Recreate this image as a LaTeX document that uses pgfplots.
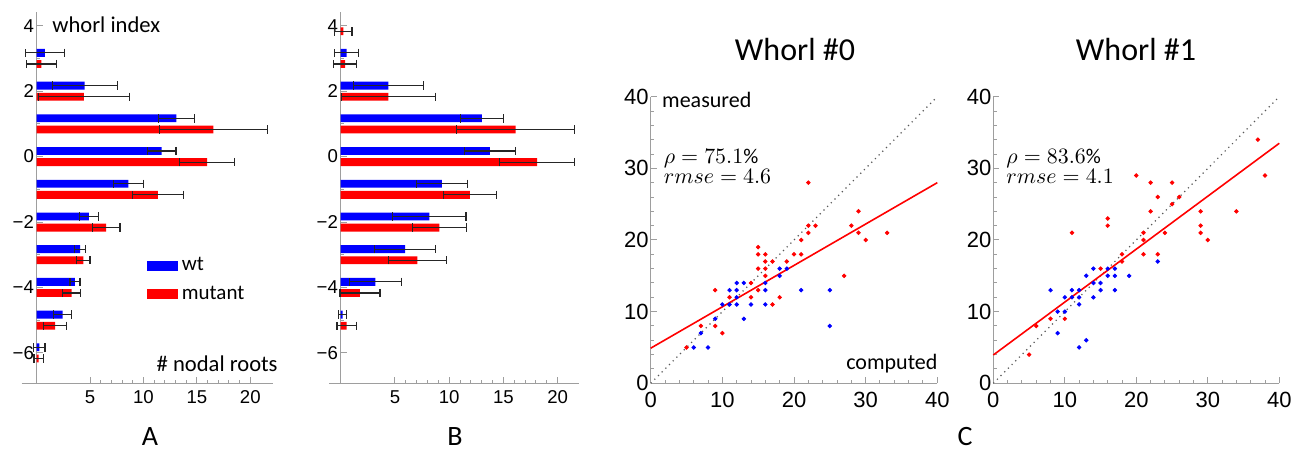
\documentclass[border=0pt]{standalone}
\usepackage{fontspec}
\setmainfont{Carlito}
\newfontfamily\tickfont{Liberation Sans}
\usepackage{pgfplots}
\pgfplotsset{compat=1.18}

\definecolor{mblue}{RGB}{0,0,255}
\definecolor{mred}{RGB}{255,0,0}
\definecolor{axgray}{gray}{0.62}

\pgfplotsset{
  barpanel/.style={
    scale only axis,
    axis x line=bottom, axis y line=middle,
    axis line style={axgray, -, line width=0.6pt},
    tick style={axgray, line width=0.5pt},
    tick align=inside,
    major tick length=3pt, minor tick length=1.8pt,
    xtick={5,10,15,20}, xticklabels={5,10,15,20},
    minor x tick num=4,
    ytick={-6,-4,-2,0,2,4}, yticklabels={−6,−4,−2,0,2,4},
    minor y tick num=1,
    ticklabel style={font=\tickfont\fontsize{9.3}{10}\selectfont, black},
    yticklabel style={inner sep=1.2pt},
    xticklabel style={inner sep=0pt, yshift=-3.3pt},
    clip=false,
  },
  errs/.style={error bars/.cd, x dir=both, x explicit,
    error mark=|,
    error bar style={black!85, line width=0.6pt},
    error mark options={black!85, mark size=2.1pt, line width=0.6pt}},
  wtbar/.style={xbar, bar width=0.24, fill=mblue, draw=none, forget plot, errs},
  mtbar/.style={xbar, bar width=0.24, fill=mred, draw=none, forget plot, errs},
  scatpanel/.style={
    scale only axis, width=143.3pt, height=143.3pt,
    xmin=0, xmax=40, ymin=0, ymax=40,
    axis lines=left,
    axis line style={axgray, -, line width=0.6pt},
    tick style={axgray, line width=0.5pt},
    tick align=inside,
    major tick length=3pt, minor tick length=1.8pt,
    xtick={0,10,20,30,40}, ytick={0,10,20,30,40},
    minor tick num=4,
    ticklabel style={font=\tickfont\fontsize{11}{12}\selectfont, black},
    /pgf/number format/assume math mode=true,
    yticklabel style={inner sep=0.8pt},
    xticklabel style={inner sep=0pt, yshift=-4.2pt},
    clip=false,
  },
}

\begin{document}
\begin{tikzpicture}
\useasboundingbox (0pt,0pt) rectangle (650pt,229pt);

% ---- panel A
\begin{axis}[barpanel, at={(10.85pt,37.35pt)}, anchor=south west,
  width=125.5pt, height=185.8pt,
  xmin=-1.4, xmax=22.1, ymin=-6.93, ymax=4.43,
  legend style={at={(axis cs:10.3,-2.95)}, anchor=north west, draw=none, fill=none,
    inner sep=0pt, row sep=2pt, font=\fontsize{10.5}{12}\selectfont},
  legend cell align=left]
\addplot[wtbar] coordinates {
  (0.78,3.17) +- (1.8,0)
  (4.50,2.17) +- (3.05,0)
  (13.08,1.17) +- (1.67,0)
  (11.71,0.17) +- (1.33,0)
  (8.59,-0.83) +- (1.4,0)
  (4.90,-1.83) +- (0.9,0)
  (4.06,-2.83) +- (0.55,0)
  (3.59,-3.83) +- (0.47,0)
  (2.44,-4.83) +- (0.83,0)
  (0.25,-5.83) +- (0.53,0)
};
\addplot[mtbar] coordinates {
  (0.45,2.83) +- (1.4,0)
  (4.43,1.83) +- (4.25,0)
  (16.55,0.83) +- (5.06,0)
  (15.96,-0.17) +- (2.56,0)
  (11.34,-1.17) +- (2.4,0)
  (6.50,-2.17) +- (1.3,0)
  (4.37,-3.17) +- (0.62,0)
  (3.28,-4.17) +- (0.86,0)
  (1.72,-5.17) +- (1.05,0)
  (0.19,-6.17) +- (0.44,0)
};
\addlegendimage{legend image code/.code={\fill[mblue] (0pt,-2.15pt) rectangle (15pt,2.15pt);}}
\addlegendentry{wt}
\addlegendimage{legend image code/.code={\fill[mred] (0pt,-2.15pt) rectangle (15pt,2.15pt);}}
\addlegendentry{mutant}
\end{axis}

% ---- panel B
\begin{axis}[barpanel, at={(164.65pt,37.35pt)}, anchor=south west,
  width=125pt, height=185.8pt,
  xmin=-1.05, xmax=22.0, ymin=-6.93, ymax=4.43]
\addplot[wtbar] coordinates {
  (0.55,3.17) +- (1.1,0)
  (4.40,2.17) +- (3.23,0)
  (13.02,1.17) +- (2.0,0)
  (13.76,0.17) +- (2.34,0)
  (9.33,-0.83) +- (2.36,0)
  (8.18,-1.83) +- (3.38,0)
  (5.94,-2.83) +- (2.83,0)
  (3.20,-3.83) +- (2.4,0)
  (0.18,-4.83) +- (0.37,0)
};
\addplot[mtbar] coordinates {
  (0.24,3.83) +- (0.8,0)
  (0.40,2.83) +- (1.05,0)
  (4.40,1.83) +- (4.34,0)
  (16.12,0.83) +- (5.47,0)
  (18.10,-0.17) +- (3.45,0)
  (11.91,-1.17) +- (2.42,0)
  (9.10,-2.17) +- (2.5,0)
  (7.07,-3.17) +- (2.66,0)
  (1.78,-4.17) +- (1.85,0)
  (0.55,-5.17) +- (0.89,0)
};
\end{axis}

% ---- Whorl #0
\begin{axis}[scatpanel, at={(325.35pt,37.35pt)}, anchor=south west]
\addplot[black!65, dotted, line width=0.6pt] coordinates {(0,0) (40,40)};
\addplot[mred, line width=0.8pt] coordinates {(0,4.9) (40,28.0)};
\addplot[only marks, mark=*, mark size=0.9pt, color=mred] coordinates {
  (22,28) (29,24) (22,22) (23,22) (28,22) (22,21) (29,21) (33,21)
  (21,20) (30,20) (15,19) (15,18) (16,18) (20,18) (21,18) (16,17)
  (17,17) (19,17) (15,16) (16,16) (16,15) (27,15) (14,14) (9,13)
  (15,13) (11,12) (14,12) (18,12) (17,11) (7,8) (9,8) (10,7) (5,5)
};
\addplot[only marks, mark=*, mark size=0.9pt, color=mblue] coordinates {
  (18,16) (19,16) (18,15) (12,14) (13,14) (16,14) (11,13) (12,13)
  (16,13) (21,13) (25,13) (12,12) (10,11) (11,11) (12,11) (14,11)
  (16,11) (9,9) (13,9) (7,7) (25,8) (6,5) (8,5)
};
\end{axis}

% ---- Whorl #1
\begin{axis}[scatpanel, at={(496.65pt,37.35pt)}, anchor=south west, width=143pt]
\addplot[black!65, dotted, line width=0.6pt] coordinates {(0,0) (40,40)};
\addplot[mred, line width=0.8pt] coordinates {(0,3.95) (40,33.5)};
\addplot[only marks, mark=*, mark size=0.9pt, color=mred] coordinates {
  (37,34) (38,29) (20,29) (22,28) (25,28) (23,26) (26,26) (25,25)
  (22,24) (29,24) (34,24) (16,23) (16,22) (29,22) (11,21) (21,21)
  (24,21) (29,21) (21,20) (30,20) (18,18) (21,18) (23,18) (18,17)
  (15,16) (8,9) (10,9) (6,8) (5,4)
};
\addplot[only marks, mark=*, mark size=0.9pt, color=mblue] coordinates {
  (23,17) (14,16) (16,16) (17,16) (13,15) (16,15) (17,15) (19,15)
  (14,14) (15,14) (8,13) (11,13) (12,13) (15,13) (17,13) (10,12)
  (11,12) (12,12) (14,12) (12,11) (9,10) (10,10) (9,7) (13,6) (12,5)
};
\end{axis}

% ---- texts
\node[anchor=base west, font=\fontsize{11.3}{13}\selectfont, inner sep=0pt] at (26pt,212.5pt) {whorl index};
\node[anchor=base east, font=\fontsize{11.3}{13}\selectfont, inner sep=0pt] at (139pt,43.2pt) {\# nodal roots};
\node[anchor=base west, font=\fontsize{11}{13}\selectfont, inner sep=0pt] at (330.9pt,175.4pt) {measured};
\node[anchor=base east, font=\fontsize{11}{13}\selectfont, inner sep=0pt] at (468.9pt,44pt) {computed};
\node[anchor=base west, font=\fontsize{10.5}{12}\selectfont, inner sep=0pt] at (331.7pt,147.4pt) {$\rho = 75.1\%$};
\node[anchor=base west, font=\fontsize{10.5}{12}\selectfont, inner sep=0pt] at (331.7pt,137pt) {$rmse = 4.6$};
\node[anchor=base west, font=\fontsize{10.5}{12}\selectfont, inner sep=0pt] at (503pt,147.4pt) {$\rho = 83.6\%$};
\node[anchor=base west, font=\fontsize{10.5}{12}\selectfont, inner sep=0pt] at (503pt,137pt) {$rmse = 4.1$};
\node[font=\fontsize{16}{18}\selectfont] at (397.5pt,204pt) {Whorl \#0};
\node[font=\fontsize{16}{18}\selectfont] at (568pt,204pt) {Whorl \#1};
\node[font=\fontsize{14}{16}\selectfont] at (75pt,10.5pt) {A};
\node[font=\fontsize{14}{16}\selectfont] at (227.5pt,10.5pt) {B};
\node[font=\fontsize{14}{16}\selectfont] at (482.5pt,10.5pt) {C};
\end{tikzpicture}
\end{document}
